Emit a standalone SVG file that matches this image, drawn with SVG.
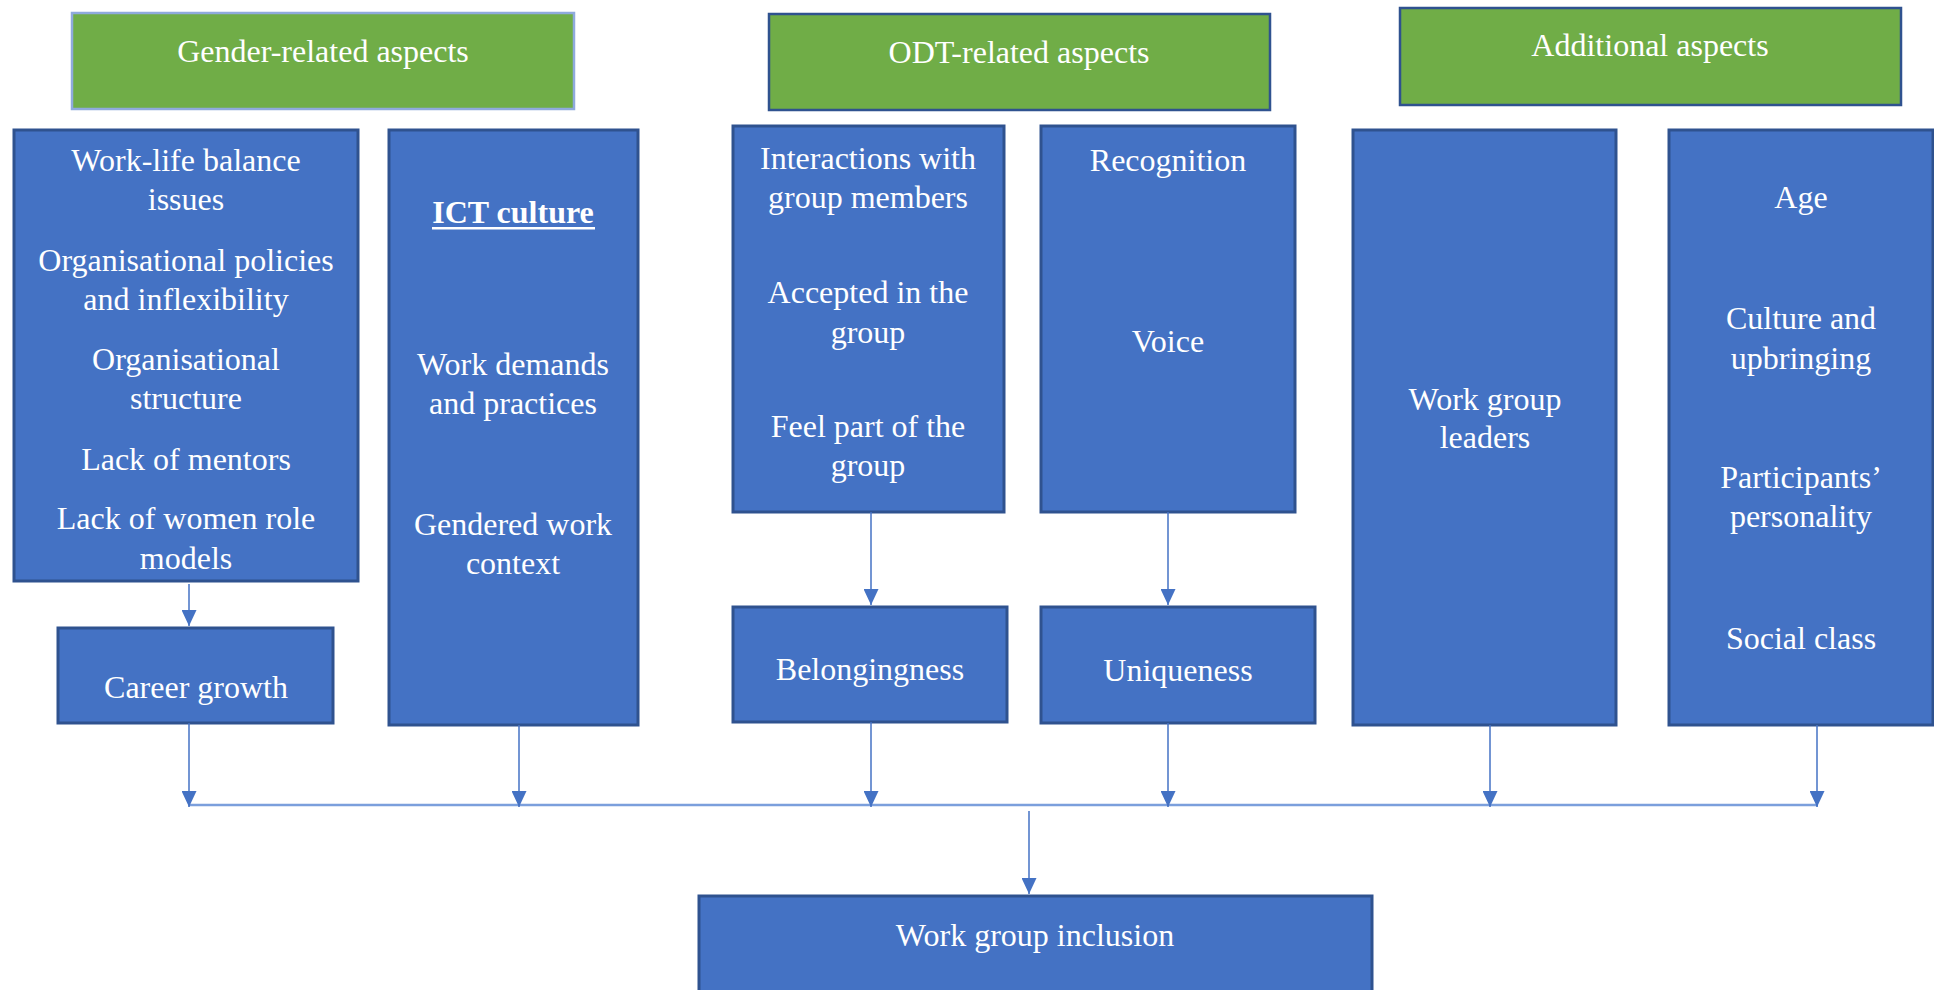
<svg xmlns="http://www.w3.org/2000/svg" width="1934" height="990" viewBox="0 0 1934 990">
  <defs>
    <style>
      .hdr { fill: #70ad47; stroke: #2f528f; stroke-width: 2.5; }
      .box { fill: #4472c4; stroke: #2f528f; stroke-width: 3; }
      .t { font-family: "Liberation Serif", "Times New Roman", serif; font-size: 32px; fill: #ffffff; text-anchor: middle; }
      .b { font-weight: bold; }
      .conn { stroke: #4472c4; stroke-width: 1.5; fill: none; }
      .bus { stroke: #7b9fdc; stroke-width: 2.5; fill: none; }
    </style>
    <marker id="arrowDown" viewBox="0 0 16 15" refX="16" refY="7.5" markerWidth="16" markerHeight="15" markerUnits="userSpaceOnUse" orient="auto">
      <path d="M0,0 L16,7.5 L0,15 Z" fill="#4472c4"/>
    </marker>
  </defs>

  <!-- category headers -->
  <g id="hdr-gender">
    <rect x="72" y="13" width="502" height="96" class="hdr" style="stroke:#8faadc"/>
    <text x="323" y="62" class="t">Gender-related aspects</text>
  </g>
  <g id="hdr-odt">
    <rect x="769" y="14" width="501" height="96" class="hdr"/>
    <text x="1019" y="63" class="t">ODT-related aspects</text>
  </g>
  <g id="hdr-additional">
    <rect x="1400" y="8" width="501" height="97" class="hdr"/>
    <text x="1650" y="56" class="t">Additional aspects</text>
  </g>

  <!-- gender-related factors -->
  <g id="gender-factors">
    <rect x="14" y="130" width="344" height="451" class="box"/>
    <text x="186" y="171" class="t">Work-life balance</text>
    <text x="186" y="210" class="t">issues</text>
    <text x="186" y="271" class="t">Organisational policies</text>
    <text x="186" y="310" class="t">and inflexibility</text>
    <text x="186" y="370" class="t">Organisational</text>
    <text x="186" y="409" class="t">structure</text>
    <text x="186" y="470" class="t">Lack of mentors</text>
    <text x="186" y="529" class="t">Lack of women role</text>
    <text x="186" y="569" class="t">models</text>
  </g>
  <g id="career-growth">
    <rect x="58" y="628" width="275" height="95" class="box"/>
    <text x="196" y="698" class="t">Career growth</text>
  </g>
  <g id="ict-culture">
    <rect x="389" y="130" width="249" height="595" class="box"/>
    <text x="513" y="223" class="t b">ICT culture</text>
    <rect x="432" y="227" width="163" height="2.5" fill="#ffffff"/>
    <text x="513" y="375" class="t">Work demands</text>
    <text x="513" y="414" class="t">and practices</text>
    <text x="513" y="535" class="t">Gendered work</text>
    <text x="513" y="574" class="t">context</text>
  </g>

  <!-- ODT-related factors -->
  <g id="odt-belonging-factors">
    <rect x="733" y="126" width="271" height="386" class="box"/>
    <text x="868" y="169" class="t">Interactions with</text>
    <text x="868" y="208" class="t">group members</text>
    <text x="868" y="303" class="t">Accepted in the</text>
    <text x="868" y="343" class="t">group</text>
    <text x="868" y="437" class="t">Feel part of the</text>
    <text x="868" y="476" class="t">group</text>
  </g>
  <g id="odt-uniqueness-factors">
    <rect x="1041" y="126" width="254" height="386" class="box"/>
    <text x="1168" y="171" class="t">Recognition</text>
    <text x="1168" y="352" class="t">Voice</text>
  </g>
  <g id="belongingness">
    <rect x="733" y="607" width="274" height="115" class="box"/>
    <text x="870" y="680" class="t">Belongingness</text>
  </g>
  <g id="uniqueness">
    <rect x="1041" y="607" width="274" height="116" class="box"/>
    <text x="1178" y="681" class="t">Uniqueness</text>
  </g>

  <!-- additional factors -->
  <g id="work-group-leaders">
    <rect x="1353" y="130" width="263" height="595" class="box"/>
    <text x="1485" y="410" class="t">Work group</text>
    <text x="1485" y="448" class="t">leaders</text>
  </g>
  <g id="personal-factors">
    <rect x="1669" y="130" width="264" height="595" class="box"/>
    <text x="1801" y="208" class="t">Age</text>
    <text x="1801" y="329" class="t">Culture and</text>
    <text x="1801" y="369" class="t">upbringing</text>
    <text x="1801" y="488" class="t">Participants’</text>
    <text x="1801" y="527" class="t">personality</text>
    <text x="1801" y="649" class="t">Social class</text>
  </g>

  <!-- outcome -->
  <g id="work-group-inclusion">
    <rect x="699" y="896" width="673" height="100" class="box"/>
    <text x="1035" y="946" class="t">Work group inclusion</text>
  </g>

  <!-- connectors -->
  <g id="connectors">
    <line x1="189" y1="584" x2="189" y2="626" class="conn" marker-end="url(#arrowDown)"/>
    <line x1="871" y1="512" x2="871" y2="605" class="conn" marker-end="url(#arrowDown)"/>
    <line x1="1168" y1="512" x2="1168" y2="605" class="conn" marker-end="url(#arrowDown)"/>

    <line x1="189" y1="805" x2="1818" y2="805" class="bus"/>
    <line x1="189" y1="723" x2="189" y2="807" class="conn" marker-end="url(#arrowDown)"/>
    <line x1="519" y1="725" x2="519" y2="807" class="conn" marker-end="url(#arrowDown)"/>
    <line x1="871" y1="722" x2="871" y2="807" class="conn" marker-end="url(#arrowDown)"/>
    <line x1="1168" y1="723" x2="1168" y2="807" class="conn" marker-end="url(#arrowDown)"/>
    <line x1="1490" y1="725" x2="1490" y2="807" class="conn" marker-end="url(#arrowDown)"/>
    <line x1="1817" y1="725" x2="1817" y2="807" class="conn" marker-end="url(#arrowDown)"/>

    <line x1="1029" y1="811" x2="1029" y2="894" class="conn" marker-end="url(#arrowDown)"/>
  </g>
</svg>
